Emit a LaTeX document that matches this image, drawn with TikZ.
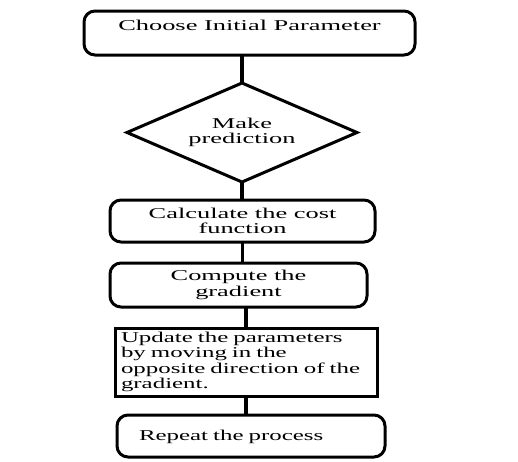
\documentclass[tikz,border=0pt]{standalone}
\usepackage{fontspec}
\setmainfont{Liberation Serif}
\newfontfamily\widea[FakeStretch=1.76]{Liberation Serif}
\newfontfamily\wideb[FakeStretch=1.66]{Liberation Serif}
\usetikzlibrary{shapes.geometric}
\tikzset{
  x=1pt, y=-1pt,
  every node/.style={inner sep=0pt, outer sep=0pt},
  fa/.style={font=\widea\fontsize{15}{15.5}\selectfont},
  fb/.style={font=\wideb\fontsize{15}{15.5}\selectfont},
  rbox/.style={draw, line width=3pt, rounded corners=11pt, rectangle, fa, align=center},
  sbox/.style={draw, line width=3pt, rectangle, fb},
  dbox/.style={draw, line width=3pt, diamond, fa, align=center},
  conn/.style={line width=3.4pt},
}
\begin{document}
\begin{tikzpicture}
\useasboundingbox (0,0) rectangle (518,461);
\node[rbox, minimum width=331, minimum height=44, text height=10, text depth=16] (b1) at (249.5,33) {Choose Initial Parameter};
\node[dbox, minimum width=230, minimum height=99, aspect=2.32] (d) at (242,132.5) {Make\\prediction};
\node[rbox, minimum width=265, minimum height=42] (b3) at (242.5,221) {Calculate the cost\\function};
\node[rbox, minimum width=257, minimum height=44] (b4) at (238.5,285) {Compute the\\gradient};
\node[sbox, minimum width=262, minimum height=68, text width=250, align=left] (b5) at (246,362) {Update the parameters\\by moving in the\\opposite direction of the\\gradient.};
\node[rbox, fb, minimum width=268, minimum height=42, text width=224, align=left, text height=10, text depth=2] (b6) at (251,436) {Repeat the process};
\draw[conn] (d.north) -- (d.north |- b1.south);
\draw[conn] (d.south) -- (d.south |- b3.north);
\draw[conn] (b3.south) -- (b3.south |- b4.north);
\draw[conn] (b5.north) -- (b5.north |- b4.south);
\draw[conn] (b5.south) -- (b5.south |- b6.north);
\end{tikzpicture}
\end{document}
